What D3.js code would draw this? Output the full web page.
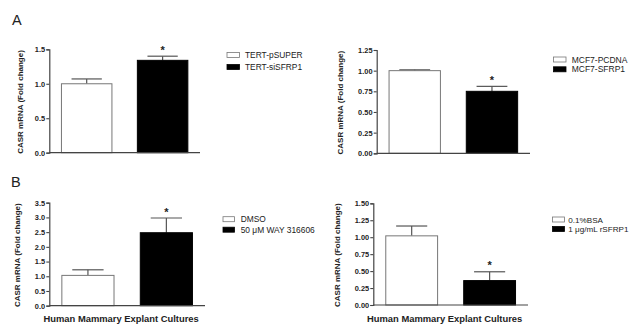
<!DOCTYPE html>
<html><head><meta charset="utf-8">
<script src="https://cdn.jsdelivr.net/npm/d3@7"></script>
<style>body{margin:0;background:#fff;}svg{display:block;font-family:"Liberation Sans",Arial,sans-serif;}</style>
</head><body><svg id="c" width="632" height="324"></svg>
<script>
// ---- data ----
const panelLetters = ["A", "B"];
const yTitle = "CASR mRNA (Fold change)";
const xTitle = "Human Mammary Explant Cultures";

const groupsA1 = ["TERT-pSUPER", "TERT-siSFRP1"];
const valuesA1 = [1.00, 1.34];
const errorsA1 = [0.07, 0.06];
const sigA1 = [false, true];
const ticksA1 = [0, 0.5, 1.0, 1.5];

const groupsA2 = ["MCF7-PCDNA", "MCF7-SFRP1"];
const valuesA2 = [1.00, 0.75];
const errorsA2 = [0.01, 0.06];
const sigA2 = [false, true];
const ticksA2 = [0, 0.25, 0.50, 0.75, 1.00, 1.25];

const groupsB1 = ["DMSO", "50 \u03bcM WAY 316606"];
const valuesB1 = [1.03, 2.48];
const errorsB1 = [0.19, 0.50];
const sigB1 = [false, true];
const ticksB1 = [0, 0.5, 1.0, 1.5, 2.0, 2.5, 3.0, 3.5];

const groupsB2 = ["0.1%BSA", "1 \u03bcg/mL rSFRP1"];
const valuesB2 = [1.02, 0.36];
const errorsB2 = [0.145, 0.13];
const sigB2 = [false, true];
const ticksB2 = [0, 0.25, 0.50, 0.75, 1.00, 1.25, 1.50];

const fills = ["#ffffff", "#000000"];

// ---- layout ----
const svg = d3.select("#c");
const textCol = "#222";
const axisCol = "#444";

svg.append("text").attr("x", 12).attr("y", 25).attr("font-size", 14.5).attr("fill", textCol).text(panelLetters[0]);
svg.append("text").attr("x", 11).attr("y", 187).attr("font-size", 14.5).attr("fill", textCol).text(panelLetters[1]);

function panel(o) {
  const g = svg.append("g");
  const y = d3.scaleLinear().domain([0, d3.max(o.ticks)]).range([o.yb, o.yt]);
  const x = d3.scaleBand().domain(o.groups).range([o.xl, o.xr]).paddingInner(0.335).paddingOuter(0.16);

  // bars
  o.groups.forEach((gname, i) => {
    const v = o.values[i], e = o.errors[i];
    const bx = x(gname), bw = x.bandwidth(), cx = bx + bw / 2;
    g.append("line").attr("x1", cx).attr("x2", cx).attr("y1", y(v)).attr("y2", y(v + e))
      .attr("stroke", "#555").attr("stroke-width", 1.2);
    g.append("line").attr("x1", cx - bw * 0.3).attr("x2", cx + bw * 0.3).attr("y1", y(v + e)).attr("y2", y(v + e))
      .attr("stroke", "#555").attr("stroke-width", 1.2);
    g.append("rect").attr("x", bx).attr("y", y(v)).attr("width", bw).attr("height", y(0) - y(v))
      .attr("fill", fills[i]).attr("stroke", i === 0 ? "#777" : "#000").attr("stroke-width", 1);
    if (o.sig[i]) {
      g.append("text").attr("x", cx).attr("y", y(v + e) - 2.5).attr("text-anchor", "middle")
        .attr("font-size", 11).attr("font-weight", "bold").attr("fill", textCol).text("*");
    }
  });

  // y axis
  const ya = g.append("g").attr("transform", `translate(${o.xl},0)`)
    .call(d3.axisLeft(y).tickValues(o.ticks).tickFormat(d3.format(o.fmt)).tickSize(3).tickPadding(1.2));
  ya.selectAll("path").attr("stroke", axisCol).attr("stroke-width", 1.2);
  ya.selectAll("line").attr("stroke", axisCol).attr("stroke-width", 1.1);
  ya.selectAll("text").attr("font-size", 7.4).attr("font-weight", "bold").attr("fill", textCol)
    .attr("font-family", "Liberation Sans, Arial, sans-serif");
  g.append("line").attr("x1", o.xl).attr("x2", o.xr).attr("y1", o.yb).attr("y2", o.yb)
    .attr("stroke", axisCol).attr("stroke-width", 1.2);

  // y title
  g.append("text").attr("transform", `translate(${o.ytx},${(o.yt + o.yb) / 2 + 1}) rotate(-90)`)
    .attr("text-anchor", "middle").attr("font-size", 8).attr("font-weight", "bold").attr("fill", textCol).text(yTitle);

  if (o.xTitle) {
    g.append("text").attr("x", (o.xl + o.xr) / 2 - 6).attr("y", 321.5).attr("text-anchor", "middle")
      .attr("font-size", 9.4).attr("font-weight", "bold").attr("fill", textCol).text(xTitle);
  }

  // legend
  o.groups.forEach((gname, i) => {
    const cy = o.ly + i * o.lstep;
    g.append("rect").attr("x", o.lx).attr("y", cy - 2.5).attr("width", o.lw).attr("height", 5)
      .attr("fill", fills[i]).attr("stroke", i === 0 ? "#777" : "#000").attr("stroke-width", 0.8);
    g.append("text").attr("x", o.tx).attr("y", cy + 3).attr("font-size", o.lf).attr("fill", textCol).text(gname);
  });
}

panel({groups: groupsA1, values: valuesA1, errors: errorsA1, sig: sigA1, ticks: ticksA1, fmt: ".1f",
  xl: 49.3, xr: 200, yb: 152.7, yt: 49.3, ytx: 23, lx: 227, lw: 12.5, tx: 245, ly: 55, lstep: 12, lf: 8.4, xTitle: false});
panel({groups: groupsA2, values: valuesA2, errors: errorsA2, sig: sigA2, ticks: ticksA2, fmt: ".2f",
  xl: 376.7, xr: 530, yb: 153.3, yt: 50, ytx: 343, lx: 553.5, lw: 12.5, tx: 571.7, ly: 59.5, lstep: 9.8, lf: 8.5, xTitle: false});
panel({groups: groupsB1, values: valuesB1, errors: errorsB1, sig: sigB1, ticks: ticksB1, fmt: ".1f",
  xl: 49.3, xr: 205, yb: 305.7, yt: 202.7, ytx: 20, lx: 223, lw: 11.5, tx: 240.7, ly: 219.2, lstep: 10.5, lf: 8.4, xTitle: true});
panel({groups: groupsB2, values: valuesB2, errors: errorsB2, sig: sigB2, ticks: ticksB2, fmt: ".2f",
  xl: 373.3, xr: 528, yb: 305, yt: 203.3, ytx: 340, lx: 552.5, lw: 12, tx: 568.3, ly: 219.5, lstep: 9.5, lf: 8.1, xTitle: true});
</script></body></html>
